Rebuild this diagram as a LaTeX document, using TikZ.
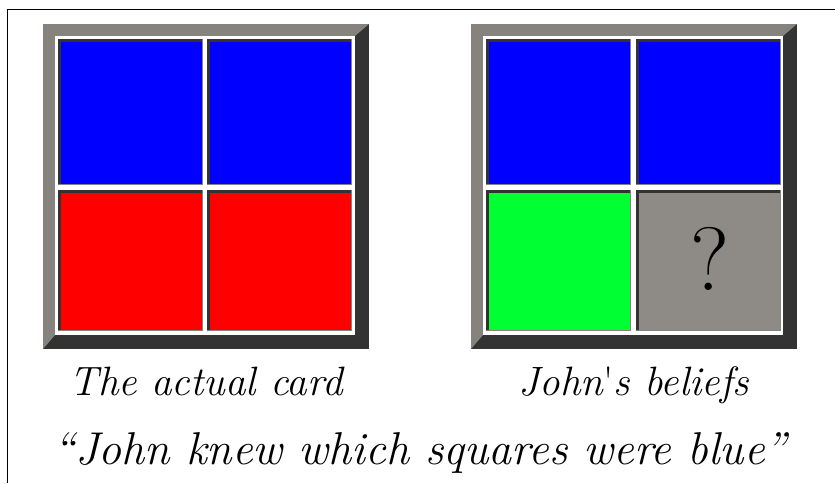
\documentclass[tikz,border=0pt]{standalone}
\definecolor{framegray}{HTML}{86837F}
\definecolor{framedark}{HTML}{333333}
\definecolor{cellgray}{HTML}{8E8B87}
\definecolor{cellblue}{HTML}{0000FF}
\definecolor{cellred}{HTML}{FF0000}
\definecolor{cellgreen}{HTML}{00FF33}
\tikzset{
  cap label/.style={font=\fontsize{41}{46}\selectfont\itshape, inner sep=0pt, anchor=base},
  quote label/.style={font=\fontsize{46}{52}\selectfont\itshape, inner sep=0pt, anchor=base},
}
\newcommand{\cardframe}[2]{% #1 = x of left edge, #2 = y of top edge
  \fill[framedark] (#1,#2) rectangle ++(326,325);
  \fill[framegray] (#1,#2) -- ++(326,0) -- ++(-14,12) -- ++(-300,0) -- ++(0,299) -- ++(-12,14) -- cycle;
  \fill[white] (#1+12,#2+12) rectangle ++(300,299);
}
\newcommand{\cardcell}[5]{% #1 name, #2 x, #3 y, #4 w/h, #5 colour
  \node[fill=#5, inner sep=0pt, minimum width=145pt, minimum height=#4pt, anchor=north west] (#1) at (#2,#3) {};
  \draw[framedark, line width=2.5pt] ([xshift=1.25pt]#1.south west) -- ([xshift=1.25pt,yshift=-1.25pt]#1.north west) -- ([yshift=-1.25pt]#1.north east);
  \draw[framegray, line width=1.5pt] ([xshift=-0.75pt]#1.north east) -- ([xshift=-0.75pt,yshift=0.75pt]#1.south east) -- ([yshift=0.75pt]#1.south west);
}
\begin{document}
\begin{tikzpicture}[x=1pt,y=-1pt]
\useasboundingbox (0,0) rectangle (835,483);
% outer border (top and left only)
\draw[line width=1.5pt, black] (835,9.5) -- (7.5,9.5) -- (7.5,483);
% card 1
\cardframe{43}{24}
\cardcell{a1}{58}{39}{146}{cellblue}
\cardcell{a2}{207}{39}{146}{cellblue}
\cardcell{a3}{58}{190}{141}{cellred}
\cardcell{a4}{207}{190}{141}{cellred}
% card 2
\cardframe{471}{24}
\cardcell{b1}{486}{39}{146}{cellblue}
\cardcell{b2}{636}{39}{146}{cellblue}
\cardcell{b3}{486}{190}{141}{cellgreen}
\cardcell{b4}{636}{190}{141}{cellgray}
\node[font=\fontsize{90}{100}\selectfont, inner sep=0pt, anchor=base] (q) at (710,290) {?};
% captions
\node[cap label] (c1) at (206,395) {The actual card};
\node[cap label] (c2) at (634,395) {John{\upshape\textquotesingle}s beliefs};
\node[quote label] (c3) at (420,464) {``John knew which squares were blue''};
\end{tikzpicture}
\end{document}
